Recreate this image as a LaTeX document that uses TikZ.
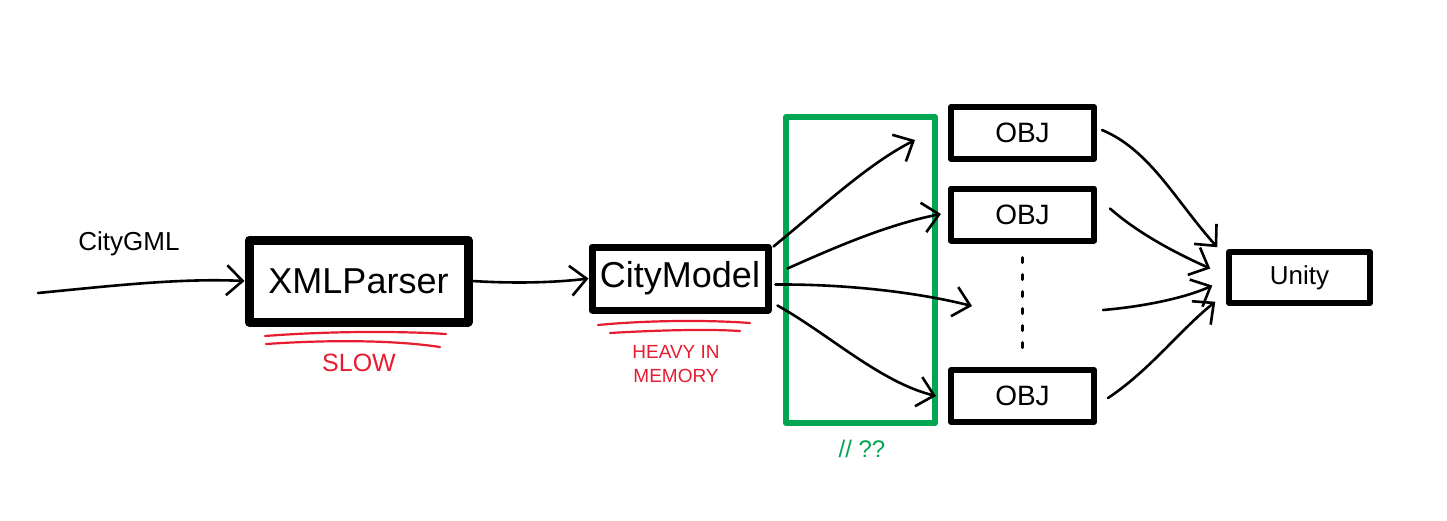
\documentclass[tikz,border=0pt]{standalone}
\usepackage{fontspec}
\setmainfont{Liberation Sans}
\usetikzlibrary{arrows.meta,calc}
\definecolor{grn}{RGB}{0,166,81}
\definecolor{rd}{RGB}{232,28,48}
\tikzset{
  box/.style={draw=black, inner sep=0pt, line join=round, line cap=round},
  arr/.style={draw=black, line width=2.6pt, line cap=round, line join=round,
    -{Straight Barb[length=16pt,width=30pt,line width=2.6pt]}},
  redline/.style={draw=rd, line width=2.2pt, line cap=round},
  lbl/.style={inner sep=0pt}
}
\begin{document}
\begin{tikzpicture}[x=1pt,y=-1pt]
\useasboundingbox (0,0) rectangle (1447,520);
\fill[white] (0,0) rectangle (1447,520);

% boxes
\node[box, line width=9pt, minimum width=219pt, minimum height=82pt, font=\fontsize{36}{40}\selectfont] (xml) at (358.5,281) {XMLParser};
\node[box, line width=7pt, minimum width=176pt, minimum height=63pt, font=\fontsize{36}{40}\selectfont] (cm) at (680,278.5) {CityModel};
\node[box, line width=6pt, minimum width=143pt, minimum height=52pt, font=\fontsize{28}{32}\selectfont] (o1) at (1022.5,133) {OBJ};
\node[box, line width=6pt, minimum width=143pt, minimum height=52pt, font=\fontsize{28}{32}\selectfont] (o2) at (1022.5,214.5) {OBJ};
\node[box, line width=6pt, minimum width=143pt, minimum height=52pt, font=\fontsize{28}{32}\selectfont] (o3) at (1022.5,396) {OBJ};
\node[box, line width=5.5pt, minimum width=141pt, minimum height=51pt, font=\fontsize{26}{30}\selectfont] (un) at (1299.5,277.5) {Unity};

% green frame
\node[draw=grn, line width=6pt, line join=round, inner sep=0pt, minimum width=149pt, minimum height=306pt] (par) at (860.5,270) {};

% labels
\node[lbl, font=\fontsize{26}{30}\selectfont] (gml) at (129,244) {CityGML};
\node[lbl, text=rd, font=\fontsize{25}{28}\selectfont] (slow) at (359,363) {SLOW};
\node[lbl, text=rd, align=center, font=\fontsize{19}{24}\selectfont] (heavy) at (676,364.5) {HEAVY IN\\MEMORY};
\node[lbl, text=grn, font=\fontsize{24}{28}\selectfont] (pq) at (862,449) {// ??};

% red underlines
\draw[redline] (265,336) .. controls (330,331) and (400,331) .. (446,334);
\draw[redline] (266,344) .. controls (340,339) and (400,341) .. (440,347);
\draw[redline] (598,325) .. controls (650,320) and (710,320) .. (750,323);
\draw[redline] (610,333) .. controls (660,330) and (710,329) .. (740,331);

% coordinates
\coordinate (in) at (38,293);
\coordinate (f1) at (915,140);
\coordinate (f2) at (941,214);
\coordinate (f3) at (972,306);
\coordinate (f4) at (936,396);
\coordinate (mid) at (1103,310);

% input
\draw[arr] (in) .. controls (110,286) and (180,278) .. (xml.west);
\draw[arr] (xml.east) .. controls (520,284) and (560,282) .. (cm.west);

% fan out
\draw[arr] ($(cm.north east)+(2,3)$) .. controls (830,200) and (870,163) .. (f1);
\draw[arr] ($(cm.east)+(16,-10)$) .. controls (840,245) and (890,224) .. (f2);
\draw[arr] ($(cm.east)+(4,6)$) .. controls (850,284) and (920,293) .. (f3);
\draw[arr] ($(cm.south east)+(6,-8)$) .. controls (830,335) and (880,382) .. (f4);

% dots
\draw[line width=3pt, line cap=round, dash pattern=on 5pt off 12pt] ($(o2.south)+(0,14)$) -- ($(o3.north)+(0,-10)$);

% to unity
\draw[arr] ($(o1.east)+(5,-3)$) .. controls (1150,150) and (1175,200) .. ($(un.north west)+(-9,-2)$);
\draw[arr] ($(o2.east)+(13,-6)$) .. controls (1140,235) and (1180,255) .. ($(un.west)+(-16,-9)$);
\draw[arr] (mid) .. controls (1150,306) and (1190,296) .. ($(un.west)+(-14,8)$);
\draw[arr] ($(o3.east)+(11,2)$) .. controls (1150,370) and (1180,330) .. ($(un.south west)+(-11,-4)$);
\end{tikzpicture}
\end{document}
